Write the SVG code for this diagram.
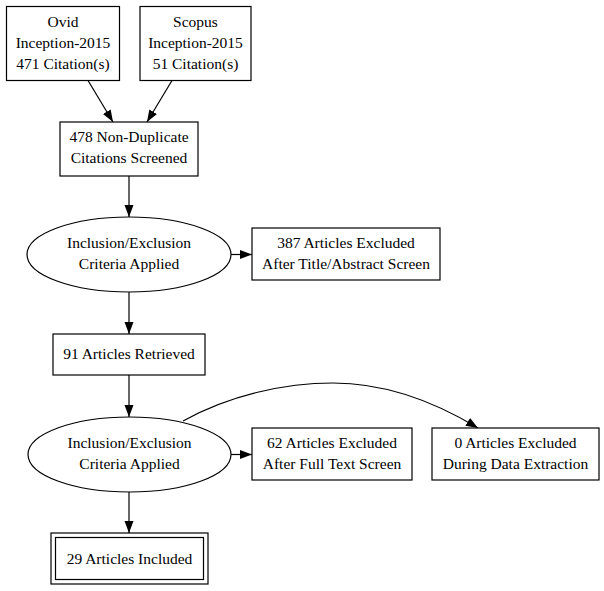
<svg xmlns="http://www.w3.org/2000/svg" width="604" height="591" viewBox="0 0 604 591">
<style>
  .n rect, .n ellipse { fill: #ffffff; stroke: #000000; stroke-width: 1.2; }
  text { font-family: "Liberation Serif", "Times New Roman", serif; font-size: 15.5px; fill: #000000; text-anchor: middle; }
  .e path, .e line { fill: none; stroke: #000000; stroke-width: 1.2; marker-end: url(#ah); }
</style>
<defs>
  <marker id="ah" markerUnits="userSpaceOnUse" markerWidth="12" markerHeight="10" viewBox="0 0 12 10" refX="12" refY="5" orient="auto">
    <polygon points="0,0.5 12,5 0,9.5" fill="#000000"/>
  </marker>
</defs>
<rect width="604" height="591" fill="#ffffff"/>
<g id="edges" class="e">
  <line x1="88" y1="80.5" x2="113" y2="122"/>
  <line x1="172" y1="80.5" x2="147" y2="122"/>
  <line x1="129" y1="176" x2="129" y2="217"/>
  <line x1="231" y1="254.5" x2="252" y2="254.5"/>
  <line x1="129" y1="292" x2="129" y2="334"/>
  <line x1="129" y1="375" x2="129" y2="417"/>
  <line x1="231" y1="454.5" x2="252" y2="454.5"/>
  <path d="M183,421 C230,395 285,383 333,383 C390,383 440,405 478,428"/>
  <line x1="129" y1="492" x2="129" y2="533"/>
</g>
<g id="ovid" class="n">
  <rect x="6.5" y="6.5" width="113" height="74"/>
  <text x="63" y="27">Ovid</text>
  <text x="63" y="48">Inception-2015</text>
  <text x="63" y="69">471 Citation(s)</text>
</g>
<g id="scopus" class="n">
  <rect x="140" y="6.5" width="111" height="74"/>
  <text x="195.5" y="27">Scopus</text>
  <text x="195.5" y="48">Inception-2015</text>
  <text x="195.5" y="69">51 Citation(s)</text>
</g>
<g id="nondup" class="n">
  <rect x="60" y="122" width="138" height="54"/>
  <text x="129" y="142">478 Non-Duplicate</text>
  <text x="129" y="163">Citations Screened</text>
</g>
<g id="criteria1" class="n">
  <ellipse cx="129" cy="254.5" rx="102" ry="37.5"/>
  <text x="129" y="248">Inclusion/Exclusion</text>
  <text x="129" y="269">Criteria Applied</text>
</g>
<g id="excl387" class="n">
  <rect x="252" y="228" width="188" height="52"/>
  <text x="346" y="248">387 Articles Excluded</text>
  <text x="346" y="269">After Title/Abstract Screen</text>
</g>
<g id="retrieved" class="n">
  <rect x="53" y="334" width="152" height="41"/>
  <text x="129" y="359">91 Articles Retrieved</text>
</g>
<g id="criteria2" class="n">
  <ellipse cx="129.5" cy="454.5" rx="101.5" ry="37.5"/>
  <text x="129.5" y="448">Inclusion/Exclusion</text>
  <text x="129.5" y="469">Criteria Applied</text>
</g>
<g id="excl62" class="n">
  <rect x="252" y="428" width="160" height="52"/>
  <text x="332" y="448">62 Articles Excluded</text>
  <text x="332" y="469">After Full Text Screen</text>
</g>
<g id="excl0" class="n">
  <rect x="432" y="428" width="167" height="52"/>
  <text x="515.5" y="448">0 Articles Excluded</text>
  <text x="515.5" y="469">During Data Extraction</text>
</g>
<g id="included" class="n">
  <rect x="51" y="533" width="157" height="51"/>
  <rect x="55.5" y="537.5" width="148" height="42"/>
  <text x="129.5" y="564">29 Articles Included</text>
</g>
</svg>
